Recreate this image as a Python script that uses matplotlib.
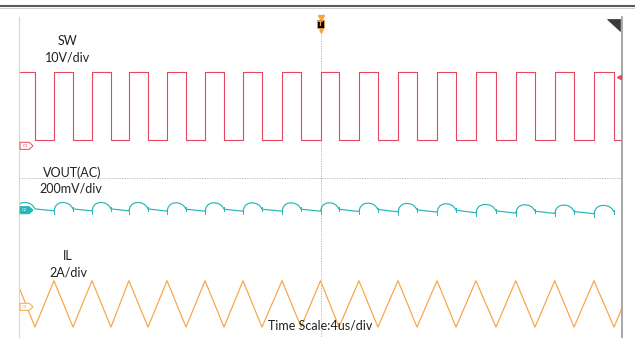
# -*- coding: utf-8 -*-
""" Scope capture: SW node, output ripple and inductor current of a buck converter """
import numpy as np
import matplotlib.pyplot as plt
from matplotlib.lines import Line2D
from matplotlib.patches import Polygon

# time axis: 4us/div, 10 divisions, trigger at 0
# screen vertical units are divisions (10 divs, centre = 0)

# SW edges (us)
sw_rise = [-17.68, -15.16, -12.71, -10.18, -7.66, -5.14, -2.55, 0.0,
           2.55, 5.14, 7.73, 10.31, 12.95, 15.54, 18.14]
sw_fall = [-18.94, -16.42, -13.90, -11.44, -8.92, -6.40, -3.88, -1.29,
           1.23, 3.81, 6.40, 8.99, 11.64, 14.23, 16.82, 19.47]
sw_high = 3.29   # div
sw_low = 1.18

# VOUT(AC): level at each rising edge (div), plus one cycle before the screen
vout_rise_t = [-20.22] + sw_rise
vout_rise_fall = [-18.94] + sw_fall[1:] + [21.0]
vout_base = [-1.02, -1.02, -1.02, -1.02, -1.03, -1.03, -1.03, -1.03, -1.03,
             -1.04, -1.05, -1.06, -1.08, -1.09, -1.10, -1.11]
# arc shape of the ripple during on-time (fraction of on-time, offset in div)
arc_frac = [0.0, 0.06, 0.16, 0.32, 0.5, 0.68, 0.84, 0.94, 1.0]
arc_off = [0.0, 0.12, 0.20, 0.25, 0.26, 0.24, 0.19, 0.12, 0.06]

# IL: peaks at rising edges, valleys at falling edges (div)
il_peak = -3.19
il_valley = -4.63
il_start = -3.39
il_end = -4.04

RED = '#e6475f'
CYAN = '#27b6b8'
ORANGE = '#f6a545'
GRID = '#c8c8c8'
TXT = '#202020'

fig = plt.figure(figsize=(6.35, 3.38), dpi=100)
ax = fig.add_axes([19 / 635, -1 / 338, 603 / 635, 322 / 338])
ax.set_xlim(-20, 20)
ax.set_ylim(-5, 5)
ax.set_xticks([])
ax.set_yticks([])
for s in ['top', 'bottom']:
    ax.spines[s].set_visible(False)
ax.spines['left'].set_color('#d6d6d6')
ax.spines['left'].set_linewidth(0.8)
ax.spines['right'].set_color('#9a9a9a')
ax.spines['right'].set_linewidth(1.2)

# dotted graticule
cols = [-16, -12, -8, -4, 4, 8, 12, 16]
ydots = np.arange(-5, 5.001, 0.2)
for c in cols:
    ax.scatter(np.full(len(ydots), c), ydots, s=0.45, marker='s', c=GRID, lw=0, clip_on=False)
xdots = np.arange(-20, 20.001, 0.8)
for r in [-4, -3, -2, -1, 1, 2, 3, 4, 5]:
    ax.scatter(xdots, np.full(len(xdots), r), s=0.45, marker='s', c=GRID, lw=0, clip_on=False)
ax.axhline(0, color='#b4b4b4', lw=0.6, ls=(0, (1.6, 1.4)))
ax.axvline(0, color='#b4b4b4', lw=0.6, ls=(0, (1.6, 1.4)))

# SW trace
edges = sorted([(t, sw_high) for t in sw_rise] + [(t, sw_low) for t in sw_fall])
t_sw = [-20.5]
v_sw = [sw_high]
for t, lvl in edges:
    t_sw += [t, t]
    v_sw += [v_sw[-1], lvl]
t_sw.append(20.5)
v_sw.append(v_sw[-1])
ax.plot(t_sw, v_sw, color=RED, lw=0.8)

# VOUT trace
t_vo, v_vo = [], []
for i in range(len(vout_rise_t)):
    tr, tf = vout_rise_t[i], vout_rise_fall[i]
    b = vout_base[i]
    for f, o in zip(arc_frac, arc_off):
        t_vo.append(tr + f * (tf - tr))
        v_vo.append(b + o)
ax.plot(t_vo, v_vo, color=CYAN, lw=0.85)
# switching spikes on the ripple
for i in range(1, len(vout_rise_t)):
    tr = vout_rise_t[i]
    tf = vout_rise_fall[i]
    b = vout_base[i]
    ax.plot([tr, tr], [b - 0.09, b + 0.08], color=CYAN, lw=0.7)
    if tf < 20:
        ax.plot([tf, tf], [b - 0.01, b + 0.12], color=CYAN, lw=0.7)

# IL trace
il_pts = sorted([(t, il_peak) for t in sw_rise] + [(t, il_valley) for t in sw_fall])
t_il = [-20] + [p[0] for p in il_pts] + [20]
v_il = [il_start] + [p[1] for p in il_pts] + [il_end]
ax.plot(t_il, v_il, color=ORANGE, lw=0.85)

# channel labels
fs = 9
fam = ['Lato', 'DejaVu Sans']
ax.text(-16.75, 4.25, 'SW', ha='center', va='center', fontsize=fs, color=TXT, family=fam)
ax.text(-16.75, 3.73, '10V/div', ha='center', va='center', fontsize=fs, color=TXT, family=fam)
ax.text(-16.48, 0.16, 'VOUT(AC)', ha='center', va='center', fontsize=fs, color=TXT, family=fam)
ax.text(-16.55, -0.34, '200mV/div', ha='center', va='center', fontsize=fs, color=TXT, family=fam)
ax.text(-16.75, -2.42, 'IL', ha='center', va='center', fontsize=fs, color=TXT, family=fam)
ax.text(-16.7, -2.92, '2A/div', ha='center', va='center', fontsize=fs, color=TXT, family=fam)
ax.text(0.0, -4.57, 'Time Scale:4us/div', ha='center', va='center', fontsize=fs, color=TXT, family=fam)


# channel ground tags
def tag(y, name, col, filled):
    x0, w, h = -19.93, 0.86, 0.22
    pts = [(x0, y - h / 2), (x0 + w * 0.7, y - h / 2), (x0 + w, y),
           (x0 + w * 0.7, y + h / 2), (x0, y + h / 2)]
    ax.add_patch(Polygon(pts, closed=True, fc=col if filled else 'white',
                         ec=col, lw=0.7, zorder=5))
    ax.text(x0 + w * 0.38, y, name, ha='center', va='center', fontsize=3,
            color='white' if filled else col, zorder=6)


tag(1.0, 'C1', RED, False)
tag(-1.0, 'C2', CYAN, True)
tag(-4.0, 'C3', ORANGE, False)

# trigger position and level markers
ax.plot([0], [4.97], marker='v', ms=4, color=ORANGE, clip_on=False, zorder=6)
ax.text(0, 4.78, 'T', ha='center', va='center', fontsize=5, fontweight='bold',
        color=ORANGE, zorder=7,
        bbox=dict(boxstyle='square,pad=0.15', fc='black', ec=ORANGE, lw=0.5))
ax.plot([0], [4.56], marker='v', ms=2.5, color=ORANGE, zorder=6)
ax.plot([19.8], [3.14], marker='<', ms=3, color=RED, zorder=6)
ax.plot([19.8, 20], [3.14, 3.14], color=RED, lw=0.9, zorder=6)

# corner flag
ax.add_patch(Polygon([(19.0, 4.94), (19.87, 4.94), (19.87, 4.57)], closed=True,
                     fc='#3a3a3a', ec='#3a3a3a', lw=0.5, zorder=6))

# top bar line
fig.add_artist(Line2D([0, 1], [0.981, 0.981], color='#5a5a5a', lw=1.5))
fig.add_artist(Line2D([0, 1], [0.975, 0.975], color='#c8c8c8', lw=0.6))

plt.savefig('out.png', dpi=100)
